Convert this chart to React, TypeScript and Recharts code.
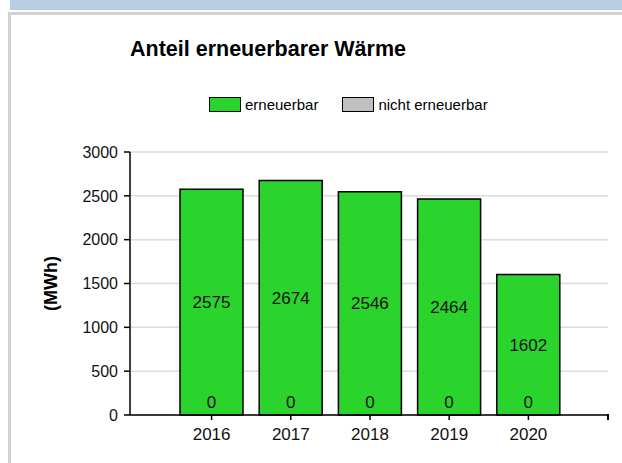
import React from 'react';
import { BarChart, Bar, XAxis, YAxis, CartesianGrid, LabelList, Label } from 'recharts';

const years = ['2016', '2017', '2018', '2019', '2020'];
const erneuerbar = [2575, 2674, 2546, 2464, 1602];
const nichtErneuerbar = [0, 0, 0, 0, 0];
const yTicks = [0, 500, 1000, 1500, 2000, 2500, 3000];

const seriesInfo = [
  { key: 'erneuerbar', name: 'erneuerbar', color: '#2ad42c' },
  { key: 'nicht', name: 'nicht erneuerbar', color: '#c0c0c0' },
];

const data = years.map((y, i) => ({
  year: y,
  erneuerbar: erneuerbar[i],
  nicht: nichtErneuerbar[i],
}));

const FONT = '"Liberation Sans", Arial, sans-serif';

export default function App() {
  return (
    <div style={{ position: 'absolute', left: 0, top: 0, width: 622, height: 463, background: '#fff', overflow: 'hidden', fontFamily: FONT }}>
      <div style={{ position: 'absolute', left: 10, top: 0, width: 612, height: 10, background: '#b8cce4' }} />
      <div style={{ position: 'absolute', left: 8, top: 12, width: 614, height: 451, borderLeft: '3px solid #d2d2d2', borderTop: '3px solid #d2d2d2', boxSizing: 'border-box' }} />
      <div style={{ position: 'absolute', left: 0, top: 37, width: 536, textAlign: 'center', fontWeight: 'bold', fontSize: 21.5, color: '#000' }}>
        Anteil erneuerbarer Wärme
      </div>
      <div style={{ position: 'absolute', left: 209, top: 96, display: 'flex', alignItems: 'center', fontSize: 15, color: '#000' }}>
        {seriesInfo.map((s, i) => (
          <div key={s.key} style={{ display: 'flex', alignItems: 'center', marginRight: i === 0 ? 24 : 0 }}>
            <div style={{ width: 30, height: 13, background: s.color, border: '1.5px solid #000', marginRight: 4 }} />
            <span>{s.name}</span>
          </div>
        ))}
      </div>
      <div style={{ position: 'absolute', left: 0, top: 0 }}>
        <BarChart width={622} height={463} data={data} margin={{ top: 152, right: 14, bottom: 18, left: 0 }}>
          <CartesianGrid vertical={false} stroke="#dcdcdc" strokeWidth={1.5} />
          <XAxis
            dataKey="year"
            height={30}
            padding={{ left: 42, right: 40 }}
            axisLine={{ stroke: '#000', strokeWidth: 1.5 }}
            tickLine={{ stroke: '#000', strokeWidth: 1.5 }}
            tickSize={5}
            tickMargin={8}
            tick={{ fill: '#111', fontSize: 17, fontFamily: FONT }}
          />
          <YAxis
            width={130}
            domain={[0, 3000]}
            ticks={yTicks}
            interval={0}
            axisLine={{ stroke: '#000', strokeWidth: 1.5 }}
            tickLine={{ stroke: '#000', strokeWidth: 1.5 }}
            tickSize={6}
            tickMargin={6}
            tick={{ fill: '#111', fontSize: 16, fontFamily: FONT }}
          >
            <Label value="(MWh)" angle={-90} position="center" dx={-14} style={{ fontWeight: 'bold', fontSize: 18, fill: '#000', fontFamily: FONT }} />
          </YAxis>
          <Bar dataKey="nicht" name="nicht erneuerbar" stackId="a" fill="#c0c0c0" stroke="#000" strokeWidth={1.5} barSize={63} isAnimationActive={false} />
          <Bar dataKey="erneuerbar" name="erneuerbar" stackId="a" fill="#2ad42c" stroke="#000" strokeWidth={1.5} barSize={63} isAnimationActive={false}>
            <LabelList dataKey="erneuerbar" position="center" style={{ fill: '#111', fontSize: 17, fontFamily: FONT }} />
            <LabelList dataKey="nicht" position="insideBottom" offset={7} style={{ fill: '#111', fontSize: 17, fontFamily: FONT }} />
          </Bar>
        </BarChart>
      </div>
      <div style={{ position: 'absolute', left: 607, top: 414, width: 1.5, height: 6, background: '#000' }} />
    </div>
  );
}
